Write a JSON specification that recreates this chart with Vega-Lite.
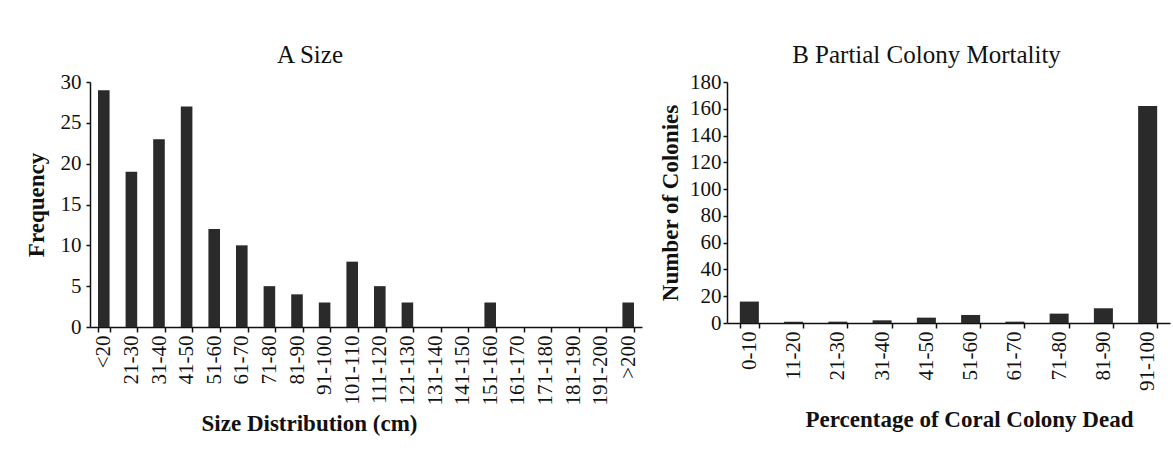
{
  "$schema": "https://vega.github.io/schema/vega-lite/v6.json",
  "background": "white",
  "padding": {"left": 25, "top": 43, "right": 3, "bottom": 5},
  "spacing": 17,
  "config": {
    "font": "Liberation Serif",
    "view": {"stroke": null},
    "axis": {
      "domainColor": "#111", "tickColor": "#111", "labelColor": "#111", "titleColor": "#111",
      "labelFont": "Liberation Serif", "titleFont": "Liberation Serif",
      "grid": false, "labelFontSize": 21, "titleFontSize": 23, "titleFontWeight": "bold",
      "domainWidth": 1.5, "tickWidth": 1.5
    },
    "title": {"font": "Liberation Serif", "fontSize": 25, "fontWeight": "normal", "color": "#111"}
  },
  "hconcat": [
    {
      "width": 552,
      "height": 245,
      "title": {"text": "A  Size", "dx": -56, "offset": 3},
      "data": {"values": [
        {"size": "<20", "freq": 29},
        {"size": "21-30", "freq": 19},
        {"size": "31-40", "freq": 23},
        {"size": "41-50", "freq": 27},
        {"size": "51-60", "freq": 12},
        {"size": "61-70", "freq": 10},
        {"size": "71-80", "freq": 5},
        {"size": "81-90", "freq": 4},
        {"size": "91-100", "freq": 3},
        {"size": "101-110", "freq": 8},
        {"size": "111-120", "freq": 5},
        {"size": "121-130", "freq": 3},
        {"size": "131-140", "freq": 0},
        {"size": "141-150", "freq": 0},
        {"size": "151-160", "freq": 3},
        {"size": "161-170", "freq": 0},
        {"size": "171-180", "freq": 0},
        {"size": "181-190", "freq": 0},
        {"size": "191-200", "freq": 0},
        {"size": ">200", "freq": 3}
      ]},
      "mark": {"type": "bar", "color": "#2a2a2a"},
      "encoding": {
        "x": {
          "field": "size", "type": "nominal", "sort": null,
          "scale": {"paddingInner": 0.58, "paddingOuter": 0.29},
          "axis": {"title": "Size Distribution (cm)", "labelAngle": 270, "tickBand": "extent", "tickSize": 5, "labelPadding": 3, "titleX": 219, "titlePadding": 8}
        },
        "y": {
          "field": "freq", "type": "quantitative",
          "scale": {"domain": [0, 30]},
          "axis": {"values": [0, 5, 10, 15, 20, 25, 30], "title": "Frequency", "tickSize": 4, "labelPadding": 5, "titlePadding": 12}
        }
      }
    },
    {
      "width": 443,
      "height": 241,
      "title": {"text": "B  Partial Colony Mortality", "dx": -22, "offset": 3},
      "data": {"values": [
        {"pct": "0-10", "n": 16},
        {"pct": "11-20", "n": 1},
        {"pct": "21-30", "n": 1},
        {"pct": "31-40", "n": 2},
        {"pct": "41-50", "n": 4},
        {"pct": "51-60", "n": 6},
        {"pct": "61-70", "n": 1},
        {"pct": "71-80", "n": 7},
        {"pct": "81-90", "n": 11},
        {"pct": "91-100", "n": 162}
      ]},
      "mark": {"type": "bar", "color": "#2a2a2a"},
      "encoding": {
        "x": {
          "field": "pct", "type": "nominal", "sort": null,
          "scale": {"paddingInner": 0.57, "paddingOuter": 0.29},
          "axis": {"title": "Percentage of Coral Colony Dead", "labelAngle": 270, "tickBand": "extent", "tickSize": 5, "labelPadding": 3, "titleX": 242, "titlePadding": 18}
        },
        "y": {
          "field": "n", "type": "quantitative",
          "scale": {"domain": [0, 180]},
          "axis": {"values": [0, 20, 40, 60, 80, 100, 120, 140, 160, 180], "title": "Number of Colonies", "tickSize": 4, "labelPadding": 2, "titlePadding": 7}
        }
      }
    }
  ]
}
